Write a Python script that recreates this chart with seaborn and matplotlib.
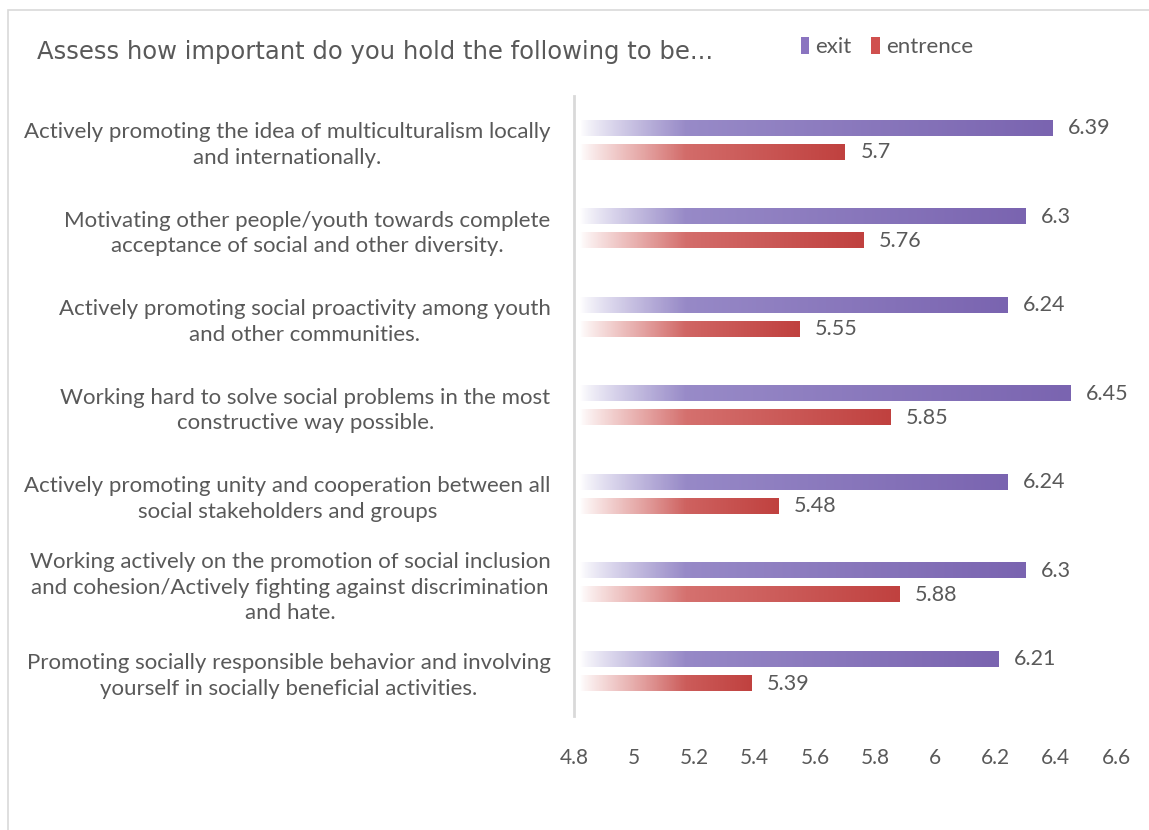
import numpy as np
import pandas as pd
import matplotlib
matplotlib.use("Agg")
import matplotlib.pyplot as plt
from matplotlib.patches import Patch, Rectangle
from matplotlib.colors import to_rgb
import seaborn as sns

# Survey items (wrapped as displayed on the axis)
items = [
    "Actively promoting the idea of multiculturalism locally\nand internationally.",
    "Motivating other people/youth towards complete\nacceptance of social and other diversity.",
    "Actively promoting social proactivity among youth\nand other communities.",
    "Working hard to solve social problems in the most\nconstructive way possible.",
    "Actively promoting unity and cooperation between all\nsocial stakeholders and groups",
    "Working actively on the promotion of social inclusion\nand cohesion/Actively fighting against discrimination\nand hate.",
    "Promoting socially responsible behavior and involving\nyourself in socially beneficial activities.",
]
exit_scores = [6.39, 6.30, 6.24, 6.45, 6.24, 6.30, 6.21]
entrence_scores = [5.70, 5.76, 5.55, 5.85, 5.48, 5.88, 5.39]
waves = ["exit", "entrence"]
x_ticks = [4.8, 5.0, 5.2, 5.4, 5.6, 5.8, 6.0, 6.2, 6.4, 6.6]

df = pd.DataFrame({
    "item": items * 2,
    "score": exit_scores + entrence_scores,
    "wave": [waves[0]] * len(items) + [waves[1]] * len(items),
})

# light / dark ends of each bar's gradient
grad = {
    "exit": ("#a196cf", "#7a64b0"),
    "entrence": ("#e08a88", "#c0413f"),
}
legend_col = {"exit": "#8a74c0", "entrence": "#d0504e"}
text_col = "#595959"

sns.set_theme(style="white")
plt.rcParams["font.family"] = ["Lato", "DejaVu Sans"]

fig = plt.figure(figsize=(11.49, 8.30), dpi=100)
ax = fig.add_axes([0.4996, 0.1376, 0.9713 - 0.4996, 0.8847 - 0.1376])

sns.barplot(data=df, y="item", x="score", hue="wave", orient="h",
            hue_order=waves, palette=legend_col, width=0.542, gap=0.37,
            legend=False, ax=ax, order=items)

xmin, xmax = x_ticks[0], x_ticks[-1]
ax.set_xlim(xmin, xmax)
ax.set_ylim(len(items) - 0.5, -0.5)

# replace flat fills with a fade-in gradient clipped to each bar
for cont, wave in zip(ax.containers, waves):
    light = np.array(to_rgb(grad[wave][0]))
    dark = np.array(to_rgb(grad[wave][1]))
    for bar in cont:
        x0 = max(bar.get_x(), xmin)
        x1 = bar.get_x() + bar.get_width()
        y0 = bar.get_y()
        y1 = y0 + bar.get_height()
        n = 400
        xs = np.linspace(x0, x1, n)
        t = (xs - x0) / max(x1 - x0, 1e-9)
        rgb = light[None, :] * (1 - t[:, None]) + dark[None, :] * t[:, None]
        fade = np.clip((xs - (xmin + 0.02)) / 0.35, 0, 1)
        fade = fade ** 0.8
        rgba = np.concatenate([rgb, fade[:, None]], axis=1)[None, :, :]
        ax.imshow(rgba, extent=[x0, x1, y1, y0], aspect="auto",
                  interpolation="bilinear", zorder=2)
        bar.set_visible(False)
    labels = ax.bar_label(cont, fmt="%g", padding=11, fontsize=15.5,
                          color=text_col)
    for lab in labels:
        lab.set_va("center")

ax.set_ylim(len(items) - 0.5, -0.5)
ax.set_xlim(xmin, xmax)
ax.set_xticks(x_ticks)
ax.set_xticklabels([f"{v:g}" for v in x_ticks])
ax.set_xlabel("")
ax.set_ylabel("")
ax.tick_params(axis="x", length=0, pad=23, labelsize=15, labelcolor=text_col)
ax.tick_params(axis="y", length=0, pad=17, labelsize=16, labelcolor=text_col)
for lbl in ax.get_yticklabels():
    lbl.set_multialignment("center")
    lbl.set_linespacing(1.35)

for side in ["top", "right", "bottom"]:
    ax.spines[side].set_visible(False)
ax.spines["left"].set_color("#d9d9d9")
ax.spines["left"].set_linewidth(2)
ax.grid(False)

fig.text(0.032, 0.937, "Assess how important do you hold the following to be...",
         fontsize=17.5, color=text_col, va="center", ha="left",
         family="DejaVu Sans")

handles = [Patch(facecolor=legend_col[w], edgecolor="none") for w in waves]
fig.legend(handles, waves, loc="center left", bbox_to_anchor=(0.689, 0.943),
           ncol=2, frameon=False, fontsize=16, labelcolor=text_col,
           handlelength=0.4, handleheight=0.75, handletextpad=0.25,
           columnspacing=0.9, borderaxespad=0)

# chart frame
fig.patches.append(Rectangle((8 / 1149, -0.05), 1.2, 1 - 10 / 830 + 0.05,
                             transform=fig.transFigure, fill=False,
                             edgecolor="#d9d9d9", linewidth=1.2))

fig.savefig("out.png", dpi=100, facecolor="white")
